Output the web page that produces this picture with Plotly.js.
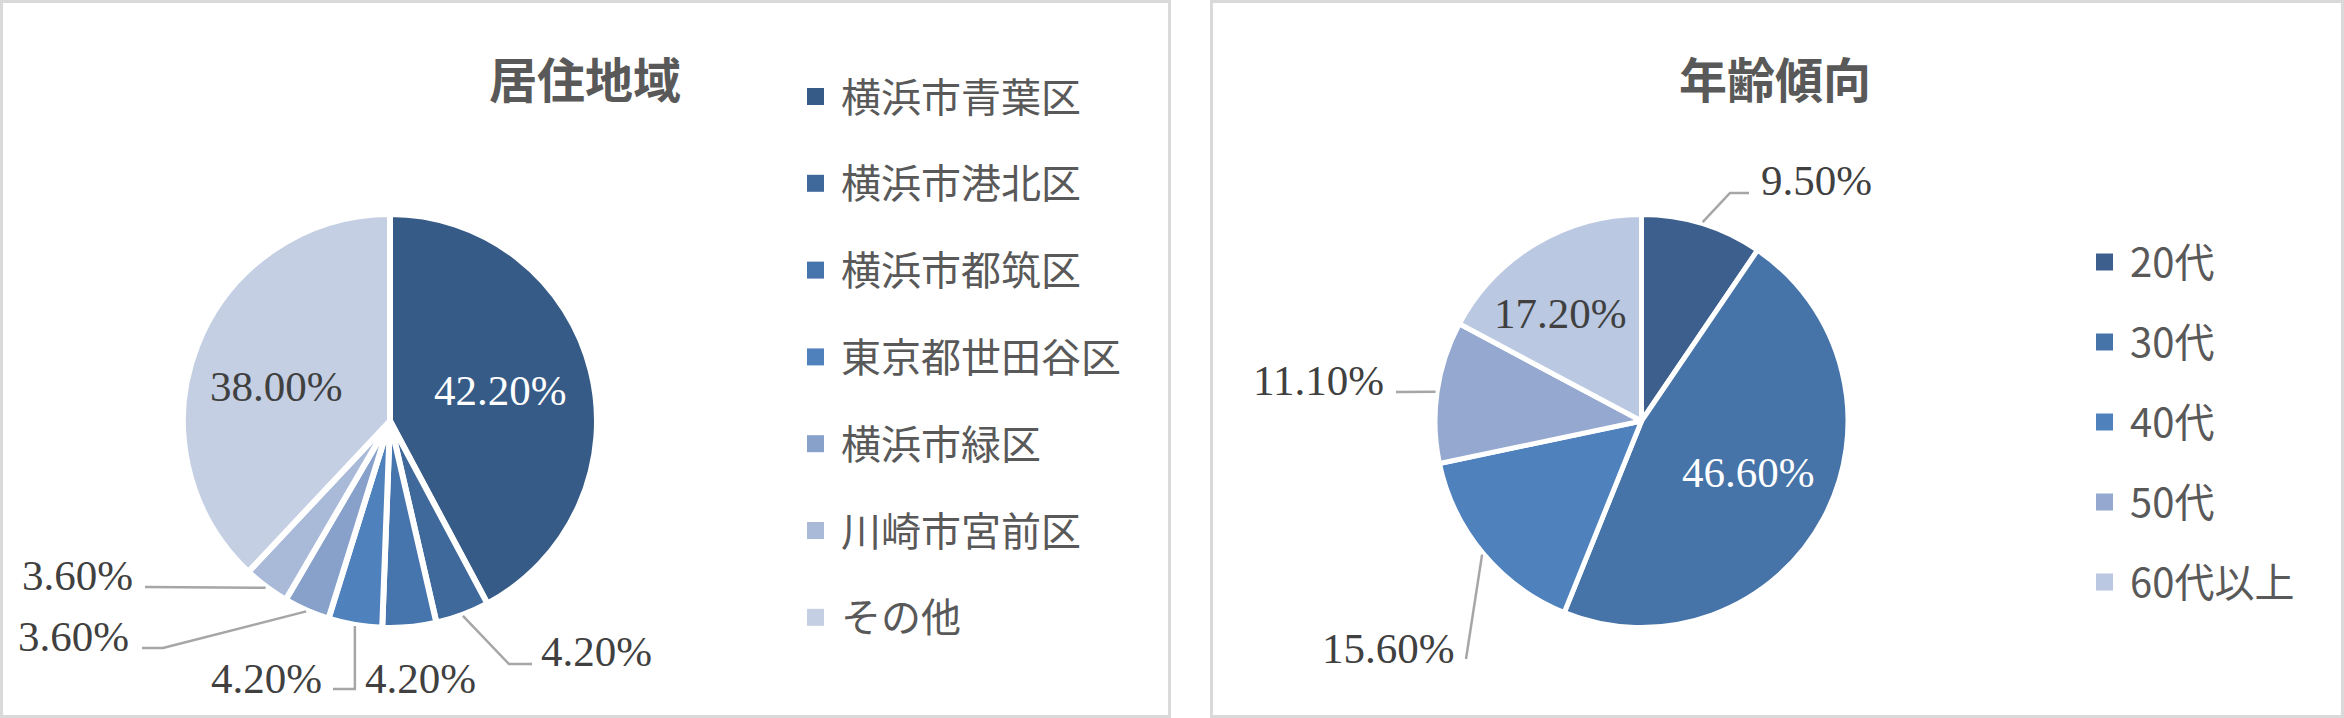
<!DOCTYPE html>
<html><head><meta charset="utf-8">
<script src="https://cdn.plot.ly/plotly-3.0.1.min.js"></script>
<style>html,body{margin:0;padding:0;background:#fff}</style>
</head><body><div id="chart" style="width:2344px;height:718px"></div>
<script>
// ---------- data ----------
const regionTitle = '居住地域';
const regionLabels = ['横浜市青葉区','横浜市港北区','横浜市都筑区','東京都世田谷区','横浜市緑区','川崎市宮前区','その他'];
const regionValues = [42.2, 4.2, 4.2, 4.2, 3.6, 3.6, 38.0];
const regionColors = ['#365B87','#3F689B','#4674AC','#4F81BD','#87A1CA','#A9BAD8','#C4CFE3'];

const ageTitle = '年齢傾向';
const ageLabels = ['20代','30代','40代','50代','60代以上'];
const ageValues = [9.5, 46.6, 15.6, 11.1, 17.2];
const ageColors = ['#3C5F8D','#4673A8','#4F81BD','#95A9D0','#BAC8E1'];

// ---------- layout config (pixels) ----------
const W = 2344, H = 718;
const SERIF = 'Liberation Serif, Times New Roman, serif';
const CJK = 'Noto Sans CJK JP, Noto Sans, sans-serif';
const TXT = '#595959', LBL = '#404040', LEAD = '#A6A6A6';
const LBL_SIZE = 43;

const panels = [
  {
    title: regionTitle, labels: regionLabels, values: regionValues, colors: regionColors,
    box: [1.5, 1.5, 1169.5, 716.5],
    cx: 390, cy: 421, r: 204, lineW: 6,
    titleX: 585, titleY: 77,
    legX: 807, legY0: 96.5, legDY: 86.8, legTextX: 839,
    labels_cfg: [
      {inside: true, frac: 0.56, dAng: -1.6, color: '#FFFFFF'},
      {x: 539, y: 651, anchor: 'left',  path: [[509, 664], [532, 664]]},
      {x: 420, y: 678, anchor: 'center', path: null},
      {x: 324, y: 678, anchor: 'right', path: [['sx', 689], [333, 689]]},
      {x: 131, y: 636, anchor: 'right', path: [[163, 648], [142, 648]]},
      {x: 135, y: 575, anchor: 'right', path: [[145, 587]]},
      {inside: true, frac: 0.58, dAng: -4.9, color: LBL}
    ]
  },
  {
    title: ageTitle, labels: ageLabels, values: ageValues, colors: ageColors,
    box: [1211.5, 1.5, 2342.5, 716.5],
    cx: 1641.5, cy: 421, r: 204, lineW: 5,
    titleX: 1775, titleY: 77,
    legX: 2096, legY0: 262, legDY: 80, legTextX: 2128,
    labels_cfg: [
      {x: 1759, y: 180, anchor: 'left', path: [[1730, 193], [1749, 193]]},
      {inside: true, frac: 0.58, dAng: -2.5, color: '#FFFFFF'},
      {x: 1457, y: 648, anchor: 'right', path: [[1466, 659]]},
      {x: 1386, y: 380, anchor: 'right', path: [[1396, 392]]},
      {inside: true, frac: 0.66, dAng: -6, color: LBL}
    ]
  }
];

const px = x => x / W;
const py = y => 1 - y / H;

const data = [], shapes = [], annotations = [];

panels.forEach(p => {
  // panel frame
  shapes.push({type: 'rect', xref: 'paper', yref: 'paper', layer: 'below',
    x0: px(p.box[0]), x1: px(p.box[2]), y0: py(p.box[3]), y1: py(p.box[1]),
    line: {color: '#D9D9D9', width: 3}, fillcolor: 'rgba(0,0,0,0)'});

  const R = p.r + p.lineW / 2;
  data.push({
    type: 'pie', labels: p.labels, values: p.values, sort: false,
    direction: 'clockwise', rotation: 0, textinfo: 'none', hoverinfo: 'skip',
    showlegend: false,
    marker: {colors: p.colors, line: {color: '#FFFFFF', width: p.lineW}},
    domain: {x: [px(p.cx - R), px(p.cx + R)], y: [py(p.cy + R), py(p.cy - R)]}
  });

  // title
  annotations.push({xref: 'paper', yref: 'paper', x: px(p.titleX), y: py(p.titleY),
    xanchor: 'center', yanchor: 'middle', showarrow: false, text: p.title,
    font: {family: CJK, size: 48, color: TXT, weight: 'bold'}});

  // legend
  p.labels.forEach((lab, i) => {
    const yc = p.legY0 + i * p.legDY;
    shapes.push({type: 'rect', xref: 'paper', yref: 'paper',
      x0: px(p.legX), x1: px(p.legX + 17), y0: py(yc + 8.5), y1: py(yc - 8.5),
      fillcolor: p.colors[i], line: {width: 0}});
    annotations.push({xref: 'paper', yref: 'paper', x: px(p.legTextX), y: py(yc - 2),
      xanchor: 'left', yanchor: 'middle', showarrow: false, text: lab,
      font: {family: CJK, size: 40, color: TXT}});
  });

  // data labels
  const tot = p.values.reduce((a, b) => a + b, 0);
  let cum = 0;
  p.values.forEach((v, i) => {
    const ang = (cum + v / 2) / tot * 2 * Math.PI;
    cum += v;
    const cfg = p.labels_cfg[i];
    const txt = v.toFixed(2) + '%';
    if (cfg.inside) {
      const rr = p.r * cfg.frac;
      const a2 = ang + (cfg.dAng || 0) * Math.PI / 180;
      const x = p.cx + rr * Math.sin(a2), y = p.cy - rr * Math.cos(a2);
      annotations.push({xref: 'paper', yref: 'paper', x: px(x), y: py(y),
        xanchor: 'center', yanchor: 'middle', showarrow: false, text: txt,
        font: {family: SERIF, size: LBL_SIZE, color: cfg.color}});
    } else {
      annotations.push({xref: 'paper', yref: 'paper', x: px(cfg.x), y: py(cfg.y),
        xanchor: cfg.anchor, yanchor: 'middle', showarrow: false, text: txt,
        font: {family: SERIF, size: LBL_SIZE, color: LBL}});
      if (cfg.path) {
        const rs = p.r + 4;
        const sx = p.cx + rs * Math.sin(ang), sy = p.cy - rs * Math.cos(ang);
        let d = 'M ' + px(sx) + ',' + py(sy);
        cfg.path.forEach(q => {
          const qx = q[0] === 'sx' ? sx : q[0];
          d += ' L ' + px(qx) + ',' + py(q[1]);
        });
        shapes.push({type: 'path', xref: 'paper', yref: 'paper', path: d,
          line: {color: LEAD, width: 2.5}});
      }
    }
  });
});

const layout = {
  width: W, height: H, margin: {l: 0, r: 0, t: 0, b: 0},
  paper_bgcolor: '#FFFFFF', plot_bgcolor: '#FFFFFF', showlegend: false,
  shapes: shapes, annotations: annotations
};

Plotly.newPlot('chart', data, layout, {displayModeBar: false, staticPlot: true});
</script>
</body></html>
